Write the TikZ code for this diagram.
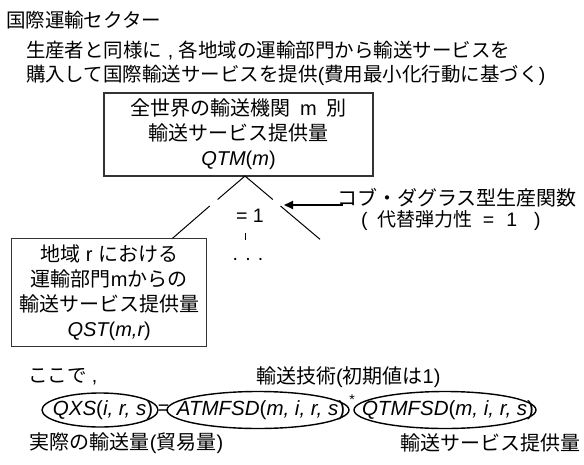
\documentclass[tikz,border=0pt]{standalone}
\usepackage{fontspec}
\setmainfont{Noto Sans CJK JP}
\newfontfamily\latf{Liberation Sans}
\newcommand\LT[1]{{\latf #1}}
\newcommand\LI[1]{{\latf\itshape #1}}
\usetikzlibrary{arrows.meta}
\begin{document}
\begin{tikzpicture}[x=1pt,y=-1pt,
  every node/.style={inner sep=0pt,outer sep=0pt,font=\fontsize{19.5}{25}\selectfont},
  boxnode/.style={draw=black!80,line width=1.3pt,align=center,font=\fontsize{20}{25}\selectfont},
  oval/.style={line width=1.4pt},
  eqtext/.style={font=\fontsize{20.5}{20.5}\selectfont},
  treeline/.style={line width=1pt},
  arr/.style={line width=1.8pt,-{Triangle[length=9pt,width=8pt]}}]
\useasboundingbox (0,0) rectangle (584,464);

\node[anchor=west] (title) at (6,20) {国際運輸セクター};
\node[anchor=west] (l2) at (26,50) {生産者と同様に\LT{ , }各地域の運輸部門から輸送サービスを};
\node[anchor=west] (l3) at (26,75) {購入して国際輸送サービスを提供\LT{(}費用最小化行動に基づく\LT{)}};

\node[boxnode,minimum width=269pt,minimum height=83pt] (top) at (238.5,134.5)
  {全世界の輸送機関\hspace{10pt}\LT{m}\hspace{10pt}別\\輸送サービス提供量\\\LI{QTM}\LT{(}\LI{m}\LT{)}};

\coordinate (apex) at (245,176);
\coordinate (la) at (217.6,199.5);
\coordinate (lb) at (209.7,206);
\coordinate (lc) at (171.7,239);
\coordinate (ra) at (272.8,199.5);
\coordinate (rb) at (280.5,206);
\coordinate (rc) at (320,239.3);
\draw[treeline] (apex) -- (la);
\draw[treeline] (lb) -- (lc);
\draw[treeline] (apex) -- (ra);
\draw[treeline] (rb) -- (rc);

\node (eq1) at (250,216) {\LT{= 1}};
\coordinate (t1) at (245,233);
\coordinate (t2) at (245,240);
\draw[line width=1pt] (t1) -- (t2);
\node (dots) at (248,259) {\LT{. . .}};

\coordinate (astart) at (343,205);
\coordinate (atip) at (284,205);
\draw[arr] (astart) -- (atip);

\node[anchor=west,font=\fontsize{20}{25}\selectfont] (cobb) at (337,198) {コブ・ダグラス型生産関数};
\node[anchor=west] (elas) at (361,221) {\LT{(}\hspace{10.5pt}{\fontsize{19}{25}\selectfont 代替弾力性}\hspace{10pt}\LT{=}\hspace{12pt}\LT{1}\hspace{17pt}\LT{)}};

\node[boxnode,minimum width=195pt,minimum height=108pt] (left) at (109.2,292.8)
  {\fontsize{20}{24.4}\selectfont 地域\LT{ r }における\\運輸部門\LT{m}からの\\輸送サービス提供量\\\LI{QST}\LT{(}\LI{m,r}\LT{)}};

\node[anchor=west] (koko) at (28,377) {ここで\LT{ ,}};
\node[anchor=west,font=\fontsize{20}{25}\selectfont] (tech) at (256,377) {輸送技術\LT{(}初期値は\LT{1)}};

\node[eqtext] (t1x) at (103,410) {\LI{QXS}\LT{(}\LI{i, r, s}\LT{)}};
\draw[oval] (100,410) ellipse [x radius=58, y radius=17];
\node (eqs) at (163.5,410) {\LT{=}};
\node[eqtext] (t2x) at (261,410) {\LI{ATMFSD}\LT{(}\LI{m, i, r, s}\LT{)}};
\draw[oval] (258,410) ellipse [x radius=91, y radius=18.5];
\node (star) at (352,400) {\fontsize{14}{14}\selectfont\LT{*}};
\node[eqtext] (t3x) at (448,410) {\LI{QTMFSD}\LT{(}\LI{m, i, r, s}\LT{)}};
\draw[oval] (445,410) ellipse [x radius=91, y radius=18.5];

\node[anchor=west,font=\fontsize{20}{25}\selectfont] (real) at (30,443) {実際の輸送量\LT{(}貿易量\LT{)}};
\node[anchor=east,font=\fontsize{20}{25}\selectfont] (supply) at (580,443) {輸送サービス提供量};
\end{tikzpicture}
\end{document}
